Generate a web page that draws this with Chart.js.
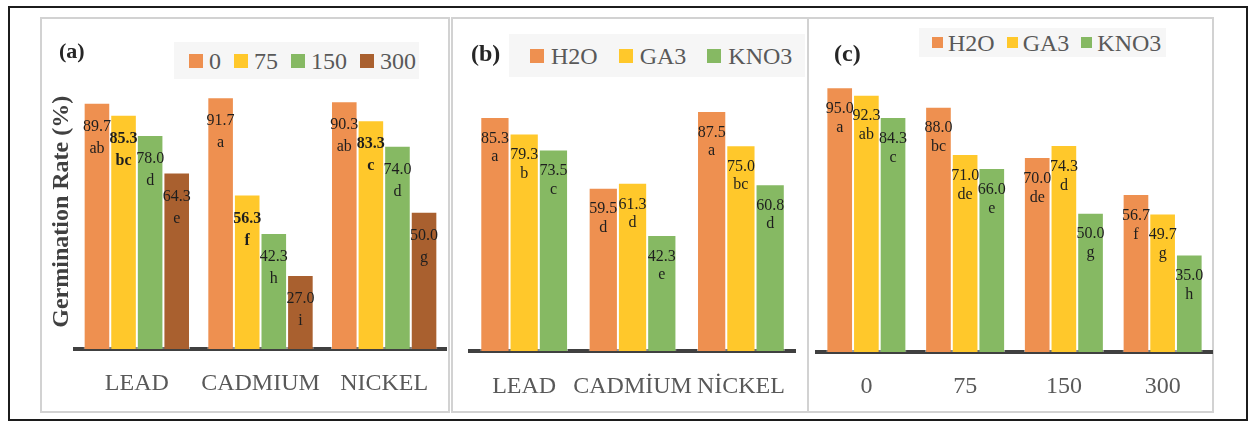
<!DOCTYPE html>
<html>
<head>
<meta charset="utf-8">
<script src="https://cdn.jsdelivr.net/npm/chart.js@4.4.0/dist/chart.umd.min.js"></script>
<style>
  body { margin: 0; background: #fff; font-family: "Liberation Serif", serif; }
  #page { position: relative; width: 1249px; height: 424px; overflow: hidden; }
  .box { position: absolute; box-sizing: border-box; }
  .outer { left: 8px; top: 6px; width: 1240px; height: 415px; border: 2px solid #1c1c1c; }
  .panel { top: 17px; height: 396px; border: 2px solid #d2d2d2; }
  canvas { position: absolute; top: 18px; }
  .tag { position: absolute; font-weight: bold; color: #262626; line-height: 1; }
  .legend { position: absolute; background: #f6f6f6; display: flex; align-items: center;
            box-sizing: border-box; color: #595959; line-height: 1; white-space: nowrap; }
  .legend .sq { display: inline-block; }
</style>
</head>
<body>
<div id="page">
  <div class="box outer"></div>
  <div class="box panel" style="left:40px;width:410px"></div>
  <div class="box panel" style="left:451px;width:358px"></div>
  <div class="box panel" style="left:807px;width:407px"></div>

  <canvas id="chartA" width="409" height="420" style="left:40px"></canvas>
  <canvas id="chartB" width="356" height="420" style="left:452px"></canvas>
  <canvas id="chartC" width="405" height="420" style="left:808px"></canvas>

  <div class="tag" style="left:59px;top:40px;font-size:22px">(a)</div>
  <div class="tag" style="left:471px;top:41px;font-size:24px">(b)</div>
  <div class="tag" style="left:834px;top:41px;font-size:24px">(c)</div>

  <div class="legend" id="legA"></div>
  <div class="legend" id="legB"></div>
  <div class="legend" id="legC"></div>
</div>

<script>
// panel (a): metal x concentration
const metalsA = ['LEAD', 'CADMIUM', 'NICKEL'];
const concNames = ['0', '75', '150', '300'];
const concColors = ['#ee9050', '#ffc82b', '#86b963', '#a9602f'];
const a0 = [89.7, 91.7, 90.3];
const a75 = [85.3, 56.3, 83.3];
const a150 = [78.0, 42.3, 74.0];
const a300 = [64.3, 27.0, 50.0];
const a0Let = ['ab', 'a', 'ab'];
const a75Let = ['bc', 'f', 'c'];
const a150Let = ['d', 'h', 'd'];
const a300Let = ['e', 'i', 'g'];

// panel (b): metal x priming
const metalsB = ['LEAD', 'CADMİUM', 'NİCKEL'];
const primeNames = ['H2O', 'GA3', 'KNO3'];
const primeColors = ['#ee9050', '#ffc82b', '#86b963'];
const bH2O = [85.3, 59.5, 87.5];
const bGA3 = [79.3, 61.3, 75.0];
const bKNO3 = [73.5, 42.3, 60.8];
const bH2OLet = ['a', 'd', 'a'];
const bGA3Let = ['b', 'd', 'bc'];
const bKNO3Let = ['c', 'e', 'd'];

// panel (c): concentration x priming
const concC = ['0', '75', '150', '300'];
const cH2O = [95.0, 88.0, 70.0, 56.7];
const cGA3 = [92.3, 71.0, 74.3, 49.7];
const cKNO3 = [84.3, 66.0, 50.0, 35.0];
const cH2OLet = ['a', 'bc', 'de', 'f'];
const cGA3Let = ['ab', 'de', 'd', 'g'];
const cKNO3Let = ['c', 'e', 'g', 'h'];

const FONT = '"Liberation Serif", serif';

// value + letter written inside the top of each bar
const barText = {
  id: 'barText',
  afterDatasetsDraw(chart, args, opts) {
    const ctx = chart.ctx;
    chart.data.datasets.forEach((ds, i) => {
      const bold = (opts.bold || []).includes(i);
      chart.getDatasetMeta(i).data.forEach((bar, j) => {
        ctx.save();
        ctx.font = (bold ? 'bold ' : '') + opts.size + 'px ' + FONT;
        ctx.fillStyle = '#1e1e1e';
        ctx.textAlign = 'center';
        ctx.textBaseline = 'middle';
        ctx.fillText(ds.data[j].toFixed(1), bar.x, bar.y + opts.first);
        ctx.fillText(ds.letters[j], bar.x, bar.y + opts.second);
        ctx.restore();
      });
    });
  }
};

function makeChart(id, labels, series, cfg) {
  return new Chart(document.getElementById(id), {
    type: 'bar',
    data: {
      labels: labels,
      datasets: series.map(s => ({
        label: s.name,
        data: s.data,
        letters: s.letters,
        backgroundColor: s.color,
        borderColor: 'rgba(255,255,255,0.55)',
        borderWidth: 1,
        categoryPercentage: cfg.cat,
        barPercentage: 1.0
      }))
    },
    options: {
      responsive: false,
      animation: false,
      layout: { padding: cfg.pad },
      plugins: {
        legend: { display: false },
        tooltip: { enabled: false },
        barText: cfg.text
      },
      scales: {
        x: {
          z: 1,
          grid: { display: false, drawTicks: false },
          border: { display: true, color: '#404040', width: 4 },
          ticks: {
            autoSkip: false, maxRotation: 0, padding: cfg.tickPad,
            color: '#595959', font: { family: FONT, size: 24 }
          }
        },
        y: {
          min: 0, max: 100,
          display: !!cfg.yTitle,
          grid: { display: false, drawTicks: false },
          border: { display: false },
          ticks: { display: false },
          title: {
            display: !!cfg.yTitle,
            text: cfg.yTitle || '',
            color: '#404040',
            font: { family: FONT, size: 24, weight: 'bold', lineHeight: 1 },
            padding: { top: 10, bottom: 1 }
          }
        }
      }
    },
    plugins: [barText]
  });
}

makeChart('chartA', metalsA, [
  { name: concNames[0], data: a0, letters: a0Let, color: concColors[0] },
  { name: concNames[1], data: a75, letters: a75Let, color: concColors[1] },
  { name: concNames[2], data: a150, letters: a150Let, color: concColors[2] },
  { name: concNames[3], data: a300, letters: a300Let, color: concColors[3] }
], {
  cat: 0.86, tickPad: 20, yTitle: 'Germination Rate (%)',
  pad: { left: 0, right: 3, top: 56.5, bottom: 20.2 },
  text: { size: 16, first: 24, second: 46, bold: [1] }
});

makeChart('chartB', metalsB, [
  { name: primeNames[0], data: bH2O, letters: bH2OLet, color: primeColors[0] },
  { name: primeNames[1], data: bGA3, letters: bGA3Let, color: primeColors[1] },
  { name: primeNames[2], data: bKNO3, letters: bKNO3Let, color: primeColors[2] }
], {
  cat: 0.81, tickPad: 21.6,
  pad: { left: 18, right: 9, top: 58.7, bottom: 15 },
  text: { size: 16, first: 21.5, second: 40 }
});

makeChart('chartC', concC, [
  { name: primeNames[0], data: cH2O, letters: cH2OLet, color: primeColors[0] },
  { name: primeNames[1], data: cGA3, letters: cGA3Let, color: primeColors[1] },
  { name: primeNames[2], data: cKNO3, letters: cKNO3Let, color: primeColors[2] }
], {
  cat: 0.81, tickPad: 20.6,
  pad: { left: 9, right: 1, top: 55.3, bottom: 16 },
  text: { size: 16, first: 21.5, second: 40.5 }
});

// html legends on a light grey backing
function makeLegend(id, names, colors, o) {
  const el = document.getElementById(id);
  Object.assign(el.style, {
    left: o.left + 'px', top: o.top + 'px', width: o.width + 'px', height: o.height + 'px',
    paddingLeft: o.padLeft + 'px', fontSize: o.font + 'px'
  });
  names.forEach((n, i) => {
    const sq = document.createElement('span');
    sq.className = 'sq';
    Object.assign(sq.style, { width: o.sq + 'px', height: o.sq + 'px', background: colors[i], marginRight: o.gapText + 'px' });
    const t = document.createElement('span');
    t.textContent = n;
    if (i < names.length - 1) t.style.marginRight = o.gapItem + 'px';
    el.appendChild(sq);
    el.appendChild(t);
  });
}

makeLegend('legA', concNames, concColors, { left: 174, top: 42, width: 245, height: 37, padLeft: 15, font: 24, sq: 14, gapText: 6, gapItem: 13 });
makeLegend('legB', primeNames, primeColors, { left: 509, top: 34, width: 296, height: 43, padLeft: 21, font: 24, sq: 14, gapText: 7, gapItem: 21 });
makeLegend('legC', primeNames, primeColors, { left: 919, top: 28, width: 247, height: 29, padLeft: 13, font: 24, sq: 11, gapText: 5, gapItem: 12 });
</script>
</body>
</html>
